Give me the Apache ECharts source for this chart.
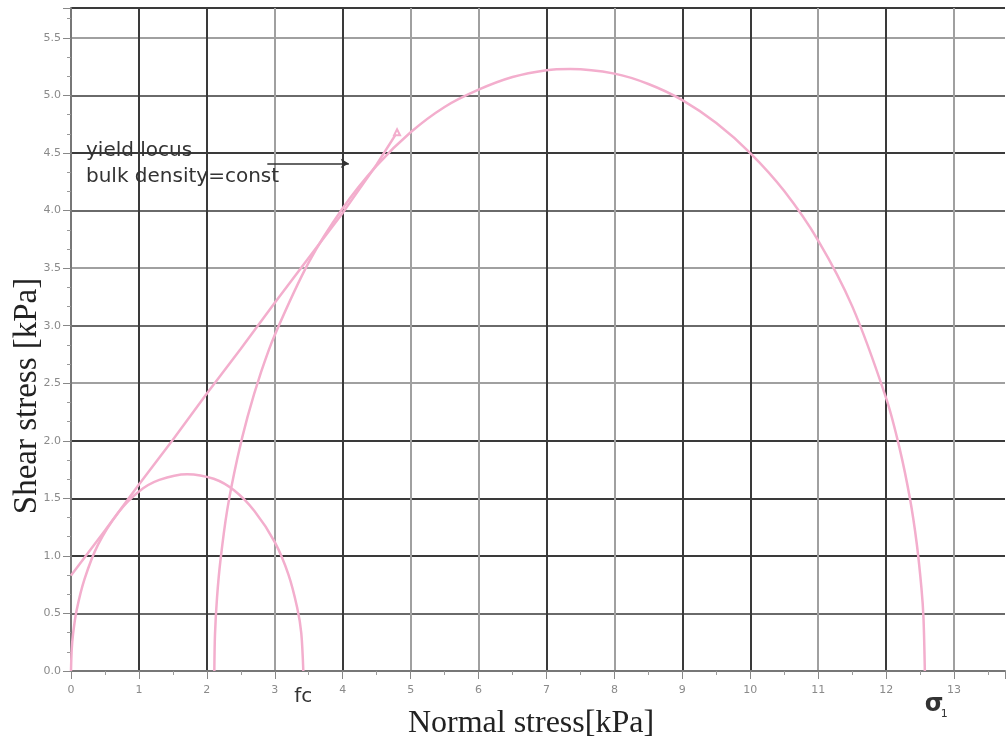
<!DOCTYPE html>
<html>
<head>
<meta charset="utf-8">
<script src="https://cdn.jsdelivr.net/npm/echarts@6/dist/echarts.min.js"></script>
<style>
  html, body { margin: 0; padding: 0; background: #ffffff; }
  #chart { width: 1008px; height: 749px; }
</style>
</head>
<body>
<div id="chart"></div>
<script>
// Axis ticks (kPa)
const xTicks = [0, 1, 2, 3, 4, 5, 6, 7, 8, 9, 10, 11, 12, 13];
const yTicks = [0, 0.5, 1, 1.5, 2, 2.5, 3, 3.5, 4, 4.5, 5, 5.5];

// Yield locus: [normal stress, shear stress]
const yieldLocus = [
  [0, 0.83], [0.5, 1.22], [1, 1.62], [1.5, 2.01], [2, 2.41], [2.5, 2.8],
  [3, 3.2], [3.5, 3.59], [4, 3.98], [4.5, 4.4], [4.8, 4.68]
];

// Mohr circle through the origin, ending at the unconfined yield strength fc
const smallCircle = [
  [0, 0], [0.01, 0.18], [0.03, 0.32], [0.08, 0.52], [0.2, 0.8], [0.4, 1.1],
  [0.7, 1.38], [1, 1.56], [1.3, 1.66], [1.71, 1.71], [2.1, 1.67], [2.4, 1.57],
  [2.7, 1.39], [3, 1.12], [3.2, 0.84], [3.33, 0.55], [3.39, 0.33], [3.42, 0]
];

// Mohr circle of steady-state flow, ending at the major principal stress sigma1
const largeCircle = [
  [2.11, 0], [2.12, 0.32], [2.15, 0.64], [2.2, 0.96], [2.3, 1.4], [2.45, 1.85],
  [2.6, 2.21], [2.8, 2.6], [3, 2.92], [3.5, 3.55], [4, 4.02], [4.5, 4.39],
  [5, 4.68], [5.5, 4.9], [6, 5.05], [6.5, 5.16], [7, 5.22], [7.35, 5.23],
  [8, 5.19], [8.5, 5.1], [9, 4.96], [9.5, 4.76], [10, 4.5], [10.5, 4.17],
  [11, 3.74], [11.5, 3.17], [12, 2.37], [12.2, 1.93], [12.35, 1.5],
  [12.45, 1.11], [12.52, 0.72], [12.55, 0.46], [12.57, 0]
];

const fcValue = 3.42;
const sigma1Value = 12.57;

const PINK = '#f3aecd';
const DARK = '#3a3a3a';
const MID = '#6a6a6a';
const LIGHT = '#a0a0a0';

const near = (arr, v) => arr.some(t => Math.abs(t - v) < 1e-6);

const chart = echarts.init(document.getElementById('chart'), null, { renderer: 'canvas' });

const curveStyle = { color: PINK, width: 2.5 };

chart.setOption({
  animation: false,
  backgroundColor: '#ffffff',
  grid: { left: 71, right: 0, top: 8, bottom: 78, containLabel: false },
  xAxis: {
    type: 'value',
    min: xTicks[0],
    max: 13.75,
    interval: 1,
    name: 'Normal stress[kPa]',
    nameLocation: 'middle',
    nameGap: 37,
    nameTextStyle: {
      fontFamily: 'Liberation Serif', fontSize: 32, color: '#222',
      padding: [0, 14, 0, 0]
    },
    axisLine: { show: true, lineStyle: { color: '#777', width: 2 } },
    axisTick: { show: true, length: 8, lineStyle: { color: '#888', width: 1 } },
    minorTick: { show: true, splitNumber: 2, length: 4, lineStyle: { color: '#999' } },
    axisLabel: {
      formatter: v => near(xTicks, v) ? String(Math.round(v)) : '',
      color: '#8a8a8a', fontSize: 11, fontFamily: 'DejaVu Sans', margin: 14
    },
    splitLine: {
      show: true,
      showMaxLine: false,
      lineStyle: {
        width: 2,
        color: [LIGHT, DARK, DARK, LIGHT, DARK, LIGHT, LIGHT, DARK, LIGHT, DARK, DARK, LIGHT, DARK, LIGHT]
      }
    }
  },
  yAxis: {
    type: 'value',
    min: yTicks[0],
    max: 5.76,
    interval: 0.5,
    axisLine: { show: true, lineStyle: { color: '#777', width: 2 } },
    axisTick: { show: true, length: 8, lineStyle: { color: '#888', width: 1 } },
    minorTick: { show: true, splitNumber: 3, length: 4, lineStyle: { color: '#999' } },
    axisLabel: {
      formatter: v => near(yTicks, v) ? v.toFixed(1) : '',
      color: '#8a8a8a', fontSize: 11, fontFamily: 'DejaVu Sans', margin: 10
    },
    splitLine: {
      show: true,
      lineStyle: {
        width: 1.8,
        color: [MID, MID, DARK, DARK, DARK, LIGHT, MID, LIGHT, MID, DARK, MID, LIGHT, DARK]
      }
    }
  },
  series: [
    {
      name: 'yield locus', type: 'line', data: yieldLocus,
      showSymbol: false, lineStyle: curveStyle, z: 3,
      markPoint: {
        silent: true,
        symbol: 'emptyTriangle',
        symbolSize: 6,
        itemStyle: { color: PINK, borderColor: PINK, borderWidth: 1.5 },
        label: { show: false },
        data: [{ coord: yieldLocus[yieldLocus.length - 1] }]
      }
    },
    {
      name: 'Mohr circle fc', type: 'line', data: smallCircle, smooth: 0.3,
      showSymbol: false, lineStyle: curveStyle, z: 3
    },
    {
      name: 'Mohr circle sigma1', type: 'line', data: largeCircle, smooth: 0.3,
      showSymbol: false, lineStyle: curveStyle, z: 3
    },
    {
      name: 'pointer', type: 'line', data: [], silent: true,
      markLine: {
        silent: true,
        symbol: ['none', 'arrow'],
        symbolSize: [7, 8],
        label: { show: false },
        lineStyle: { color: '#333', width: 1.5, type: 'solid' },
        data: [[{ coord: [2.89, 4.41] }, { coord: [4.09, 4.41] }]]
      }
    }
  ]
});

// Text annotations anchored to the axes
const fcPx = chart.convertToPixel({ gridIndex: 0 }, [fcValue, 0]);
const s1Px = chart.convertToPixel({ gridIndex: 0 }, [sigma1Value, 0]);

chart.setOption({
  graphic: [
    {
      type: 'text', left: 86, top: 138, z: 10,
      style: {
        text: 'yield locus\nbulk density=const',
        fontFamily: 'DejaVu Sans', fontSize: 20, lineHeight: 26, fill: '#333'
      }
    },
    {
      type: 'text', x: 27, y: 396, rotation: Math.PI / 2, z: 10,
      style: {
        text: 'Shear stress [kPa]',
        fontFamily: 'Liberation Serif', fontSize: 33, fill: '#222',
        align: 'center', verticalAlign: 'middle'
      }
    },
    {
      type: 'text', x: fcPx[0], y: fcPx[1] + 26, z: 10,
      style: {
        text: 'fc', fontFamily: 'DejaVu Sans', fontSize: 20, fill: '#333',
        align: 'center', verticalAlign: 'middle'
      }
    },
    {
      type: 'text', x: s1Px[0], y: s1Px[1] + 34, z: 10,
      style: {
        text: 'σ', fontFamily: 'DejaVu Sans', fontSize: 24, fontWeight: 'bold', fill: '#333',
        align: 'left', verticalAlign: 'middle'
      }
    },
    {
      type: 'text', x: s1Px[0] + 16, y: s1Px[1] + 43, z: 10,
      style: {
        text: '1', fontFamily: 'DejaVu Sans', fontSize: 11, fill: '#333',
        align: 'left', verticalAlign: 'middle'
      }
    }
  ]
});
</script>
</body>
</html>
